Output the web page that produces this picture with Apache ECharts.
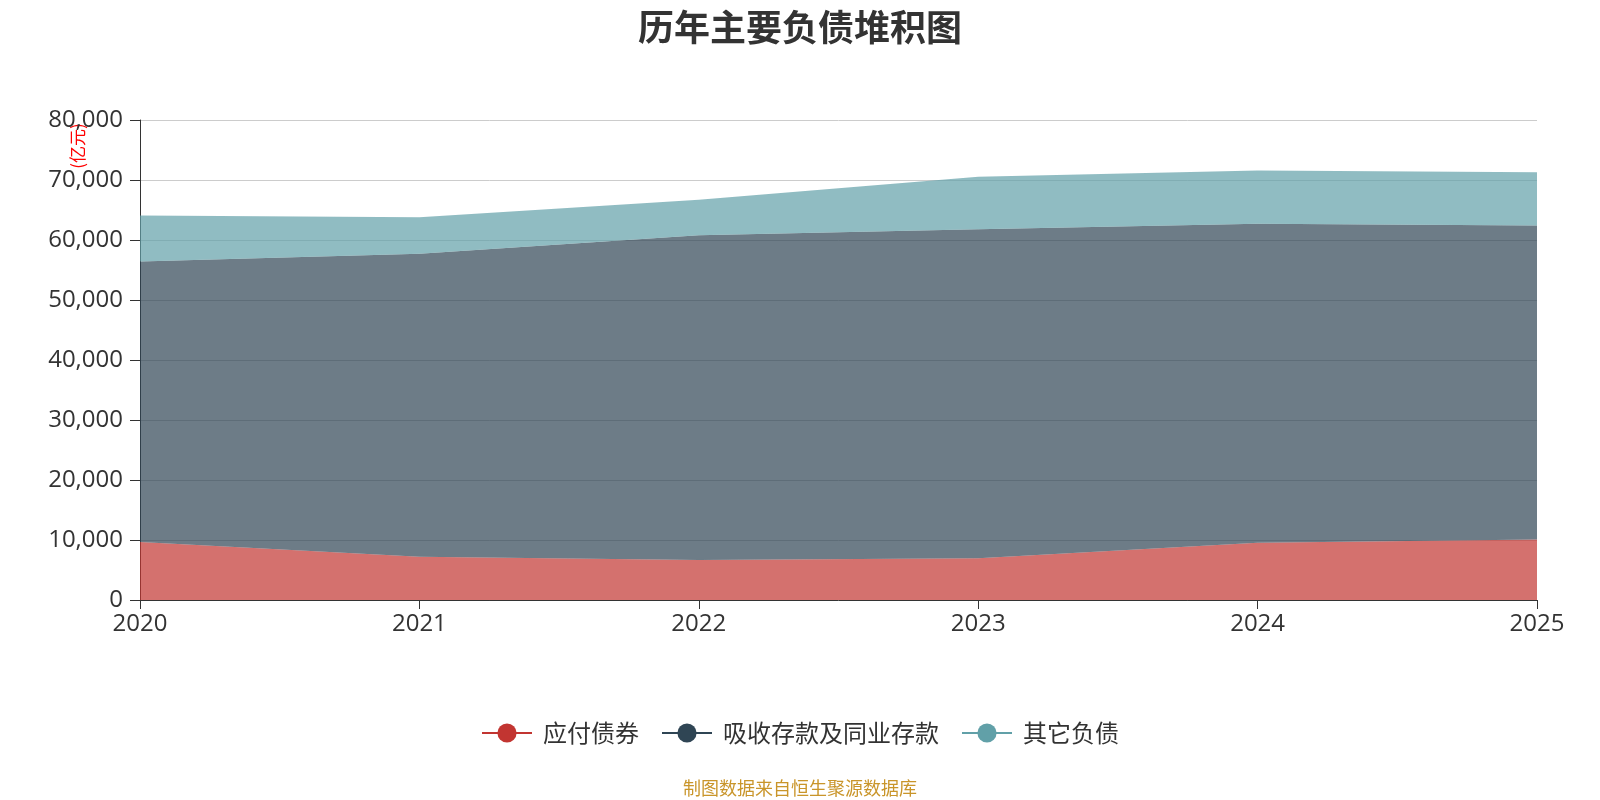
<!DOCTYPE html>
<html><head><meta charset="utf-8">
<script src="https://cdn.jsdelivr.net/npm/echarts@6/dist/echarts.min.js"></script>
<style>html,body{margin:0;padding:0;background:#fff}#c{width:1600px;height:800px}</style>
</head><body><div id="c"></div>
<script>
const years = ['2020','2021','2022','2023','2024','2025'];
const bonds = [9670, 7200, 6670, 6940, 9560, 10100];
const deposits = [46730, 50500, 54130, 54860, 53140, 52300];
const others = [7700, 6100, 5900, 8750, 8900, 8900];
const seriesNames = ['应付债券', '吸收存款及同业存款', '其它负债'];
const colors = ['#c23531', '#2f4554', '#61a0a8'];

const font = '"Noto Sans CJK SC", "Noto Sans", sans-serif';
const numFont = '"Open Sans", "Noto Sans", sans-serif';
const chart = echarts.init(document.getElementById('c'));
const mk = (name, data, i) => ({
  name, type: 'line', stack: 'total', data, smooth: false,
  symbol: 'circle', showSymbol: false,
  lineStyle: { width: 1, opacity: 0 },
  itemStyle: { color: colors[i] },
  areaStyle: { color: colors[i], opacity: 0.7 }
});
chart.setOption({
  animation: false,
  textStyle: { fontFamily: font },
  title: { text: '历年主要负债堆积图', left: 'center', top: 4,
    textStyle: { fontSize: 36, fontWeight: 'bold', color: '#333', fontFamily: font } },
  grid: { left: 140, right: 63, top: 120, bottom: 200 },
  legend: { bottom: 50, itemWidth: 50, itemHeight: 24, itemGap: 22,
    lineStyle: { opacity: 1, width: 2 },
    textStyle: { fontSize: 24, color: '#333', fontFamily: font, padding: [0, 0, 0, 6] },
    data: seriesNames },
  graphic: [
    { type: 'text', left: 'center', top: 779,
      style: { text: '制图数据来自恒生聚源数据库', fill: '#c9952a', fontSize: 18, fontFamily: font } },
    { type: 'text', x: 78, y: 146, rotation: Math.PI / 2,
      style: { text: '(亿元)', fill: 'red', fontSize: 17, fontFamily: font,
        align: 'center', verticalAlign: 'middle' } }
  ],
  xAxis: { type: 'category', data: years, boundaryGap: false,
    axisLine: { lineStyle: { color: '#333' } },
    axisTick: { show: true, length: 9, alignWithLabel: true, lineStyle: { color: '#333' } },
    axisLabel: { fontSize: 24, color: '#333', margin: 12, fontFamily: numFont } },
  yAxis: { type: 'value', min: 0, max: 80000, interval: 10000,
    axisLine: { show: true, lineStyle: { color: '#333' } },
    axisTick: { show: true, length: 10, lineStyle: { color: '#333' } },
    axisLabel: { fontSize: 24, color: '#333', margin: 17, fontFamily: numFont },
    splitLine: { lineStyle: { color: '#ccc' } } },
  series: [mk(seriesNames[0], bonds, 0), mk(seriesNames[1], deposits, 1), mk(seriesNames[2], others, 2)]
});
</script></body></html>
